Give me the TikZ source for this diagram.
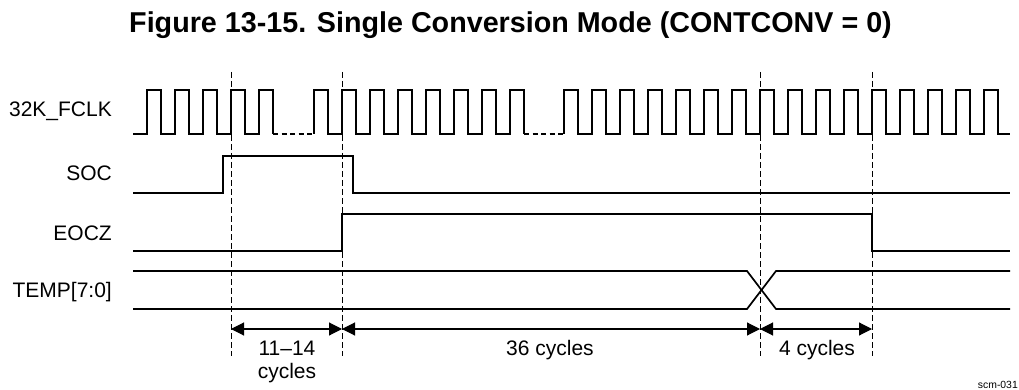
\documentclass[tikz,border=0pt]{standalone}
\usepackage{fontspec}
\setmainfont{Liberation Sans}
\usetikzlibrary{arrows.meta}
\begin{document}
\begin{tikzpicture}[x=1pt,y=-1pt,
  wave/.style={line width=2.2pt, line join=miter, line cap=butt},
  bus/.style={line width=1.7pt, line join=miter},
  gapline/.style={line width=1.3pt, dash pattern=on 5pt off 3.5pt},
  guide/.style={line width=1pt, dash pattern=on 6pt off 3pt},
  dim/.style={line width=1.1pt, {Triangle[length=13pt,width=13pt]}-{Triangle[length=13pt,width=13pt]}},
  lbl/.style={font=\fontsize{21}{25}\selectfont, inner sep=0pt},
  ttl/.style={font=\fontsize{28.7}{34}\selectfont\bfseries, inner sep=0pt},
  tag/.style={font=\fontsize{10.4}{12}\selectfont, inner sep=0pt}
]
\useasboundingbox (0,0) rectangle (1019,390);

% title
\node[ttl, anchor=base] (title) at (510.5,33) {Figure 13-15. Single Conversion Mode (CONTCONV = 0)};

% signal labels
\node[lbl, anchor=base east] (lclk)  at (112,117) {32K\_FCLK};
\node[lbl, anchor=base east] (lsoc)  at (112,180) {SOC};
\node[lbl, anchor=base east] (leocz) at (112,240) {EOCZ};
\node[lbl, anchor=base east] (ltemp) at (112,297) {TEMP[7:0]};

% clock
\draw[wave] (133,134)
  \foreach \r in {147,175,203,231,259} { -- (\r,134) -- (\r,90) -- (\r+14,90) -- (\r+14,134) };
\draw[gapline] (273,134) -- (314,134);
\draw[wave] (314,134)
  \foreach \r in {314,342,370,398,426,454,482,510} { -- (\r,134) -- (\r,90) -- (\r+14,90) -- (\r+14,134) };
\draw[gapline] (524,134) -- (564,134);
\draw[wave] (564,134)
  \foreach \k in {0,...,15} { -- (564+28*\k,134) -- (564+28*\k,90) -- (578+28*\k,90) -- (578+28*\k,134) } -- (1010,134);

% SOC
\draw[wave] (133,193) -- (223,193) -- (223,156) -- (353,156) -- (353,193) -- (1010,193);
% EOCZ
\draw[wave] (133,251) -- (342,251) -- (342,214) -- (872,214) -- (872,251) -- (1010,251);
% TEMP
\draw[bus] (133,271) -- (747,271) -- (776,309) -- (1010,309);
\draw[bus] (133,309) -- (747,309) -- (776,271) -- (1010,271);

% guide lines
\coordinate (g1t) at (231,72);  \coordinate (g1b) at (231,356);
\coordinate (g2t) at (342,72);  \coordinate (g2b) at (342,356);
\coordinate (g3t) at (760,72);  \coordinate (g3b) at (760,356);
\coordinate (g4t) at (872,72);  \coordinate (g4b) at (872,356);
\draw[guide] (g1t) -- (g1b);
\draw[guide] (g2t) -- (g2b);
\draw[guide] (g3t) -- (g3b);
\draw[guide] (g4t) -- (g4b);

% dimension arrows
\coordinate (a1) at (231,329);
\coordinate (a2) at (342,329);
\coordinate (a3) at (760,329);
\coordinate (a4) at (872,329);
\draw[dim] (a1) -- (a2);
\draw[dim] (a2) -- (a3);
\draw[dim] (a3) -- (a4);

\node[lbl, anchor=base] (t1) at (287,355) {11–14};
\node[lbl, anchor=base] (t1b) at (287,378) {cycles};
\node[lbl, anchor=base] (t2) at (550,355) {36 cycles};
\node[lbl, anchor=base] (t3) at (817,355) {4 cycles};

\node[tag, anchor=base east] (code) at (1018,388) {scm-031};
\end{tikzpicture}
\end{document}
